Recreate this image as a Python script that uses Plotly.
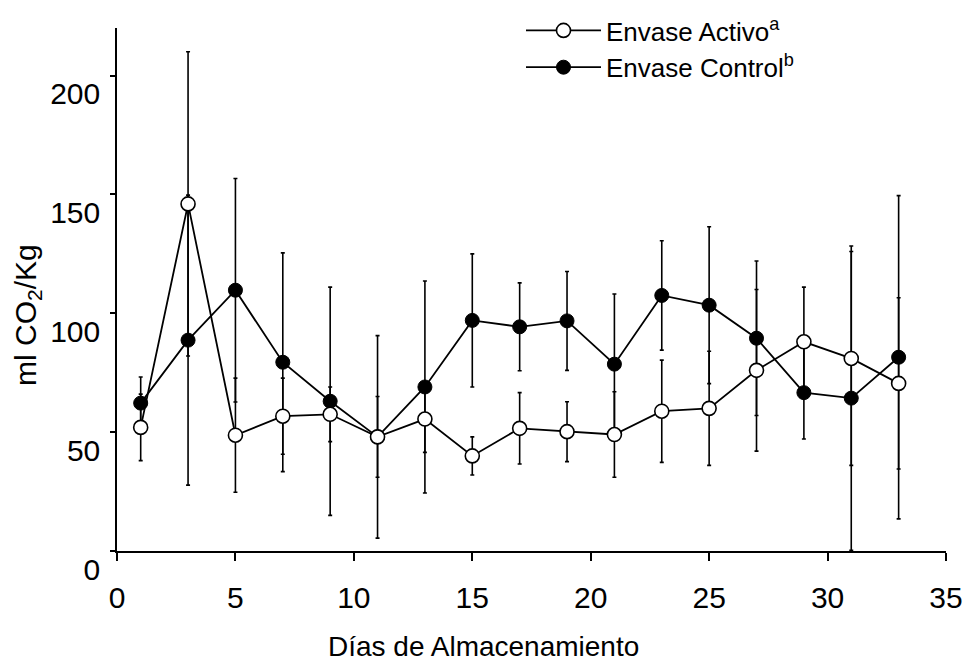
import plotly.graph_objects as go

days = [1, 3, 5, 7, 9, 11, 13, 15, 17, 19, 21, 23, 25, 27, 29, 31, 33]
activo = [52, 146, 48.7, 56.7, 57.5, 48, 55.5, 40, 51.6, 50.2, 49, 58.8, 60, 76, 88, 81, 70.5]
activo_sd = [14, 64, 24, 16, 11.5, 17, 14, 8, 15, 12.6, 18, 21.5, 24, 34, 23, 45, 36]
control = [62.2, 88.7, 109.7, 79.4, 63, 48, 69, 97, 94.3, 96.8, 78.6, 107.5, 103.4, 89.5, 66.6, 64.3, 81.5]
control_sd = [11, 61, 47, 46, 48, 42.6, 44.6, 28, 18.5, 20.8, 29.5, 23, 33, 32.5, 19.5, 64, 68]

x_ticks = [0, 5, 10, 15, 20, 25, 30, 35]
y_ticks = [0, 50, 100, 150, 200]

FONT = "Liberation Sans, Arial, sans-serif"

fig = go.Figure()
fig.add_trace(go.Scatter(
    x=days, y=control, mode="lines+markers",
    name="Envase Control<sup>b</sup>",
    line=dict(color="black", width=1.8),
    marker=dict(symbol="circle", size=14, color="black", line=dict(color="black", width=1)),
    error_y=dict(type="data", array=control_sd, visible=True, color="black", thickness=1.6, width=2),
    cliponaxis=True,
))
fig.add_trace(go.Scatter(
    x=days, y=activo, mode="lines+markers",
    name="Envase Activo<sup>a</sup>",
    line=dict(color="black", width=1.8),
    marker=dict(symbol="circle", size=14, color="white", line=dict(color="black", width=1.6)),
    error_y=dict(type="data", array=activo_sd, visible=True, color="black", thickness=1.6, width=2),
    cliponaxis=True,
))

fig.update_layout(
    width=971, height=661,
    margin=dict(l=117, r=25, t=28, b=110, autoexpand=False),
    paper_bgcolor="white", plot_bgcolor="white",
    font=dict(family=FONT, color="black"),
    showlegend=True,
    legend=dict(
        x=(521 - 117) / 829, y=1.0 + 21 / 523, xanchor="left", yanchor="top",
        traceorder="reversed", font=dict(size=26, family=FONT),
        bgcolor="rgba(0,0,0,0)", itemwidth=75,
    ),
    xaxis=dict(
        range=[0, 35], tickvals=x_ticks, ticktext=[str(v) for v in x_ticks],
        showline=True, linecolor="black", linewidth=1.5, mirror=False,
        ticks="outside", ticklen=8, tickwidth=1.5, tickcolor="black",
        showgrid=False, zeroline=False, automargin=False,
        tickfont=dict(size=30, family=FONT), ticklabelstandoff=11,
    ),
    yaxis=dict(
        range=[0, 220], tickvals=y_ticks, ticktext=[str(v) for v in y_ticks],
        showline=True, linecolor="black", linewidth=1.5, mirror=False,
        ticks="outside", ticklen=5, tickwidth=1.5, tickcolor="black",
        showgrid=False, zeroline=False, automargin=False,
        tickfont=dict(size=30, family=FONT), ticklabelshift=18, ticklabelstandoff=4,
    ),
    annotations=[
        dict(text="Días de Almacenamiento", xref="paper", yref="paper",
             x=(483 - 117) / 829, y=(551 - 646) / 523, xanchor="center", yanchor="middle",
             showarrow=False, font=dict(size=28, family=FONT)),
        dict(text="ml CO<sub>2</sub>/Kg", xref="paper", yref="paper",
             x=(27 - 117) / 829, y=(551 - 315) / 523, xanchor="center", yanchor="middle",
             textangle=-90, showarrow=False, font=dict(size=30, family=FONT)),
    ],
)

fig.write_html("out.html")
